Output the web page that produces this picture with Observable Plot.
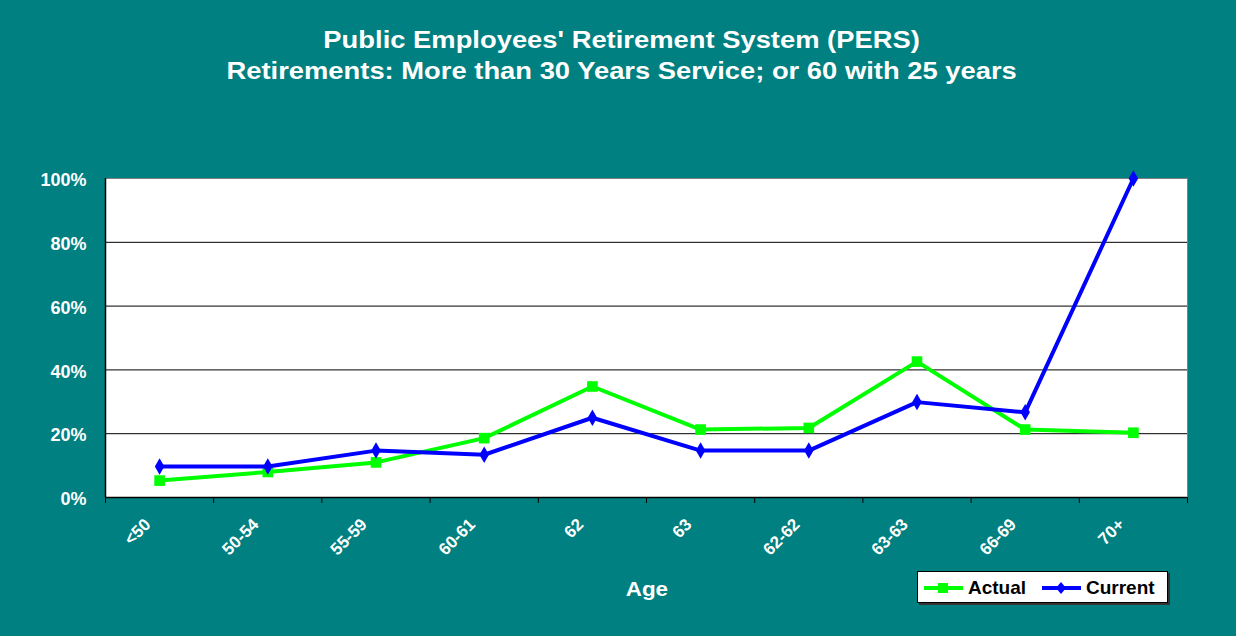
<!DOCTYPE html>
<html>
<head>
<meta charset="utf-8">
<script src="https://cdn.jsdelivr.net/npm/d3@7"></script>
<script src="https://cdn.jsdelivr.net/npm/@observablehq/plot@0.6"></script>
<style>
  html, body { margin: 0; padding: 0; background: #008080; }
  #wrap { position: relative; width: 1236px; height: 636px; background: #008080; overflow: hidden;
          font-family: "Liberation Sans", Arial, sans-serif; font-weight: bold; }
  #chart { position: absolute; left: 0; top: 0; }
  .title { position: absolute; left: 4px; width: 1236px; text-align: center; color: #fff; font-size: 24px; line-height: 31px; }
  .title span { display: inline-block; transform: scaleX(1.14); transform-origin: center; }
  #xlabel { position: absolute; left: 0; width: 1294px; top: 578px; text-align: center; color: #fff; font-size: 20px; }
  #xlabel span { display: inline-block; transform: scaleX(1.12); }
  #legend { position: absolute; left: 917px; top: 571px; width: 251px; height: 32px; background: #fff;
            border: 1px solid #000; box-shadow: 2px 2px 0 #333; box-sizing: border-box; }
  .lg { position: absolute; top: 0; height: 32px; display: flex; align-items: center; color: #000; font-size: 19px; }
</style>
</head>
<body>
<div id="wrap">
  <div class="title" style="top:24px"><span id="t1"></span></div>
  <div class="title" style="top:55px"><span id="t2"></span></div>
  <div id="chart"></div>
  <div id="xlabel"><span id="xl"></span></div>
  <div id="legend"></div>
</div>
<script>
const titleLines = ["Public Employees' Retirement System (PERS)", "Retirements: More than 30 Years Service; or 60 with 25 years"];
const xTitle = "Age";
const categories = ["<50", "50-54", "55-59", "60-61", "62", "63", "62-62", "63-63", "66-69", "70+"];
const actual  = [0.053, 0.08, 0.11, 0.186, 0.348, 0.213, 0.218, 0.426, 0.213, 0.203];
const current = [0.097, 0.097, 0.147, 0.134, 0.25, 0.147, 0.147, 0.299, 0.267, 1.0];
const seriesNames = ["Actual", "Current"];
const seriesColors = ["#00FF00", "#0000FF"];
const yTicks = [0, 0.2, 0.4, 0.6, 0.8, 1.0];

document.getElementById("t1").textContent = titleLines[0];
document.getElementById("t2").textContent = titleLines[1];
document.getElementById("xl").textContent = xTitle;

const bounds = d3.range(categories.length + 1).map(i => i - 0.5);
const actualData = categories.map((c, i) => ({i, v: actual[i]}));
const currentData = categories.map((c, i) => ({i, v: current[i]}));

const plot = Plot.plot({
  width: 1236,
  height: 636,
  marginTop: 178,
  marginBottom: 139,
  marginLeft: 105,
  marginRight: 49,
  style: {background: "transparent", color: "white", fontFamily: "'Liberation Sans', Arial, sans-serif", fontWeight: "bold"},
  x: {domain: [-0.5, categories.length - 0.5]},
  y: {domain: [0, 1]},
  marks: [
    Plot.frame({fill: "white", stroke: "#808080"}),
    Plot.ruleY(yTicks.slice(1, -1), {stroke: "black", strokeWidth: 1}),
    Plot.axisY(yTicks, {tickFormat: d3.format(".0%"), tickSize: 0, tickPadding: 19, fontSize: 18, fill: "white", dy: 2, label: null, style: {letterSpacing: "2px"}}),
    Plot.axisX(bounds, {tickFormat: () => "", tickSize: 6, stroke: "black", label: null}),
    Plot.text(categories, {x: (d, i) => i, frameAnchor: "bottom", text: d => d, rotate: -45, textAnchor: "end",
      dx: -8, dy: 28, fontSize: 17, fill: "white", fontWeight: "bold"}),
    Plot.ruleY([0], {stroke: "black", strokeWidth: 1.5}),
    Plot.ruleX([-0.5], {stroke: "black", strokeWidth: 1.5}),
    Plot.line(actualData, {x: "i", y: "v", stroke: seriesColors[0], strokeWidth: 4}),
    Plot.dot(actualData, {x: "i", y: "v", symbol: "square", fill: seriesColors[0], r: 6}),
    Plot.line(currentData, {x: "i", y: "v", stroke: seriesColors[1], strokeWidth: 4}),
    Plot.dot(currentData, {x: "i", y: "v", symbol: "diamond", fill: seriesColors[1], r: 5})
  ]
});
document.getElementById("chart").appendChild(plot);

// legend
const legend = document.getElementById("legend");
const lgPos = [6, 124];
seriesNames.forEach((name, k) => {
  const item = document.createElement("div");
  item.className = "lg";
  item.style.left = lgPos[k] + "px";
  const sym = k === 0
    ? `<rect x="14" y="5" width="10" height="10" fill="${seriesColors[k]}"/>`
    : `<path d="M19,4 L24,10 L19,16 L14,10 Z" fill="${seriesColors[k]}"/>`;
  item.innerHTML = `<svg width="40" height="20"><line x1="0" x2="39" y1="10" y2="10" stroke="${seriesColors[k]}" stroke-width="4"/>${sym}</svg><span style="margin-left:4px">${name}</span>`;
  legend.appendChild(item);
});
</script>
</body>
</html>
